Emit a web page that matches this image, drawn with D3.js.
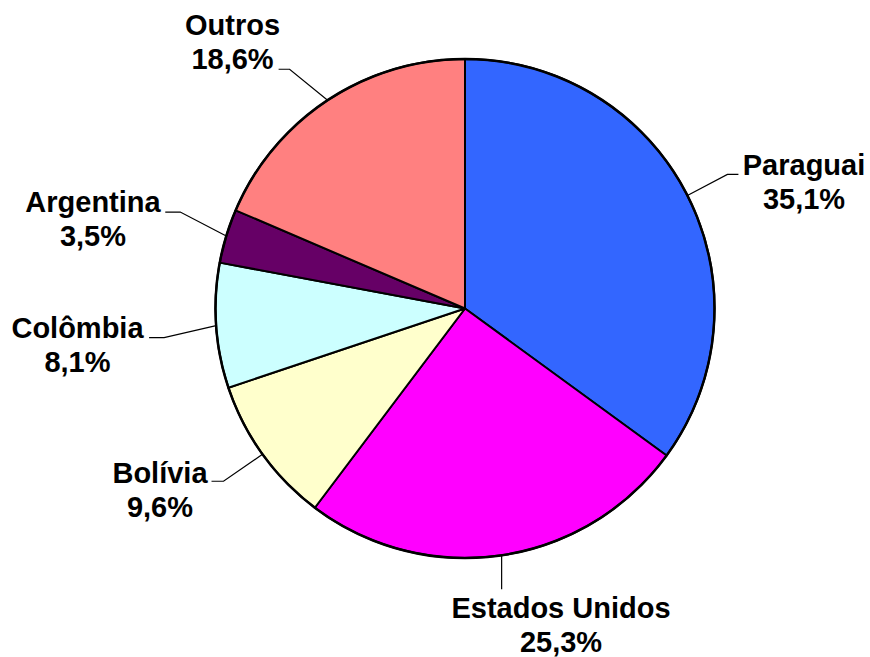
<!DOCTYPE html>
<html>
<head>
<meta charset="utf-8">
<script src="https://cdn.jsdelivr.net/npm/d3@7"></script>
<style>
  html, body { margin: 0; padding: 0; background: #ffffff; }
  svg { display: block; }
</style>
</head>
<body>
<svg id="chart" width="870" height="657"></svg>
<script>
// ---- data ----
const categories = ["Paraguai", "Estados Unidos", "Bolívia", "Colômbia", "Argentina", "Outros"];
const values = [35.1, 25.3, 9.6, 8.1, 3.5, 18.6];
const valueLabels = ["35,1%", "25,3%", "9,6%", "8,1%", "3,5%", "18,6%"];

// ---- style / layout ----
const colors = ["#3366FF", "#FF00FF", "#FFFFCC", "#CCFFFF", "#660066", "#FF8080"];
const cx = 465, cy = 308.5, R = 249.5;
const fontSize = 29, lineGap = 34;
// leader elbow offsets (from slice edge point), horizontal tail length, label text centre / first baseline
const labelLayout = [
  { ex: 40,  ey: -21, tail: 11,  tx: 804, ty: 175 },
  { ex: 0,   ey: 34,  tail: 0,   tx: 561, ty: 618 },
  { ex: -39, ey: 27,  tail: -12, tx: 160, ty: 483 },
  { ex: -52, ey: 12,  tail: -15, tx: 77.5, ty: 338 },
  { ex: -46, ey: -24, tail: -15, tx: 93,  ty: 212 },
  { ex: -38, ey: -31, tail: -11, tx: 232.5, ty: 35 }
];

const svg = d3.select("#chart");
const g = svg.append("g").attr("transform", `translate(${cx},${cy})`);

const pie = d3.pie().sort(null).value(d => d.value).startAngle(0).endAngle(2 * Math.PI);
const data = categories.map((c, i) => ({ name: c, value: values[i], label: valueLabels[i], i }));
const arcs = pie(data);
const color = d3.scaleOrdinal().domain(categories).range(colors);

const arc = d3.arc().innerRadius(0).outerRadius(R);
const edgeArc = d3.arc().innerRadius(R).outerRadius(R);

g.selectAll("path.slice")
  .data(arcs)
  .enter().append("path")
  .attr("class", "slice")
  .attr("d", arc)
  .attr("fill", d => color(d.data.name))
  .attr("stroke", "#000")
  .attr("stroke-width", 2)
  .attr("stroke-linejoin", "round");

g.append("circle").attr("r", R).attr("fill", "none").attr("stroke", "#000").attr("stroke-width", 2.5);

// leader lines
arcs.forEach((d, i) => {
  const L = labelLayout[i];
  const [px, py] = edgeArc.centroid(d);
  const ex = px + L.ex, ey = py + L.ey;
  const pts = [[px, py], [ex, ey], [ex + L.tail, ey]];
  g.append("path")
    .attr("d", d3.line()(pts))
    .attr("fill", "none")
    .attr("stroke", "#000")
    .attr("stroke-width", 1.2);
});

// labels
const labels = svg.append("g")
  .attr("font-family", "'Liberation Sans', Arial, sans-serif")
  .attr("font-weight", "bold")
  .attr("font-size", fontSize)
  .attr("fill", "#000")
  .attr("text-anchor", "middle");

arcs.forEach((d, i) => {
  const L = labelLayout[i];
  const t = labels.append("text").attr("x", L.tx).attr("y", L.ty);
  t.append("tspan").attr("x", L.tx).attr("y", L.ty).text(d.data.name);
  t.append("tspan").attr("x", L.tx).attr("y", L.ty + lineGap).text(d.data.label);
});
</script>
</body>
</html>
